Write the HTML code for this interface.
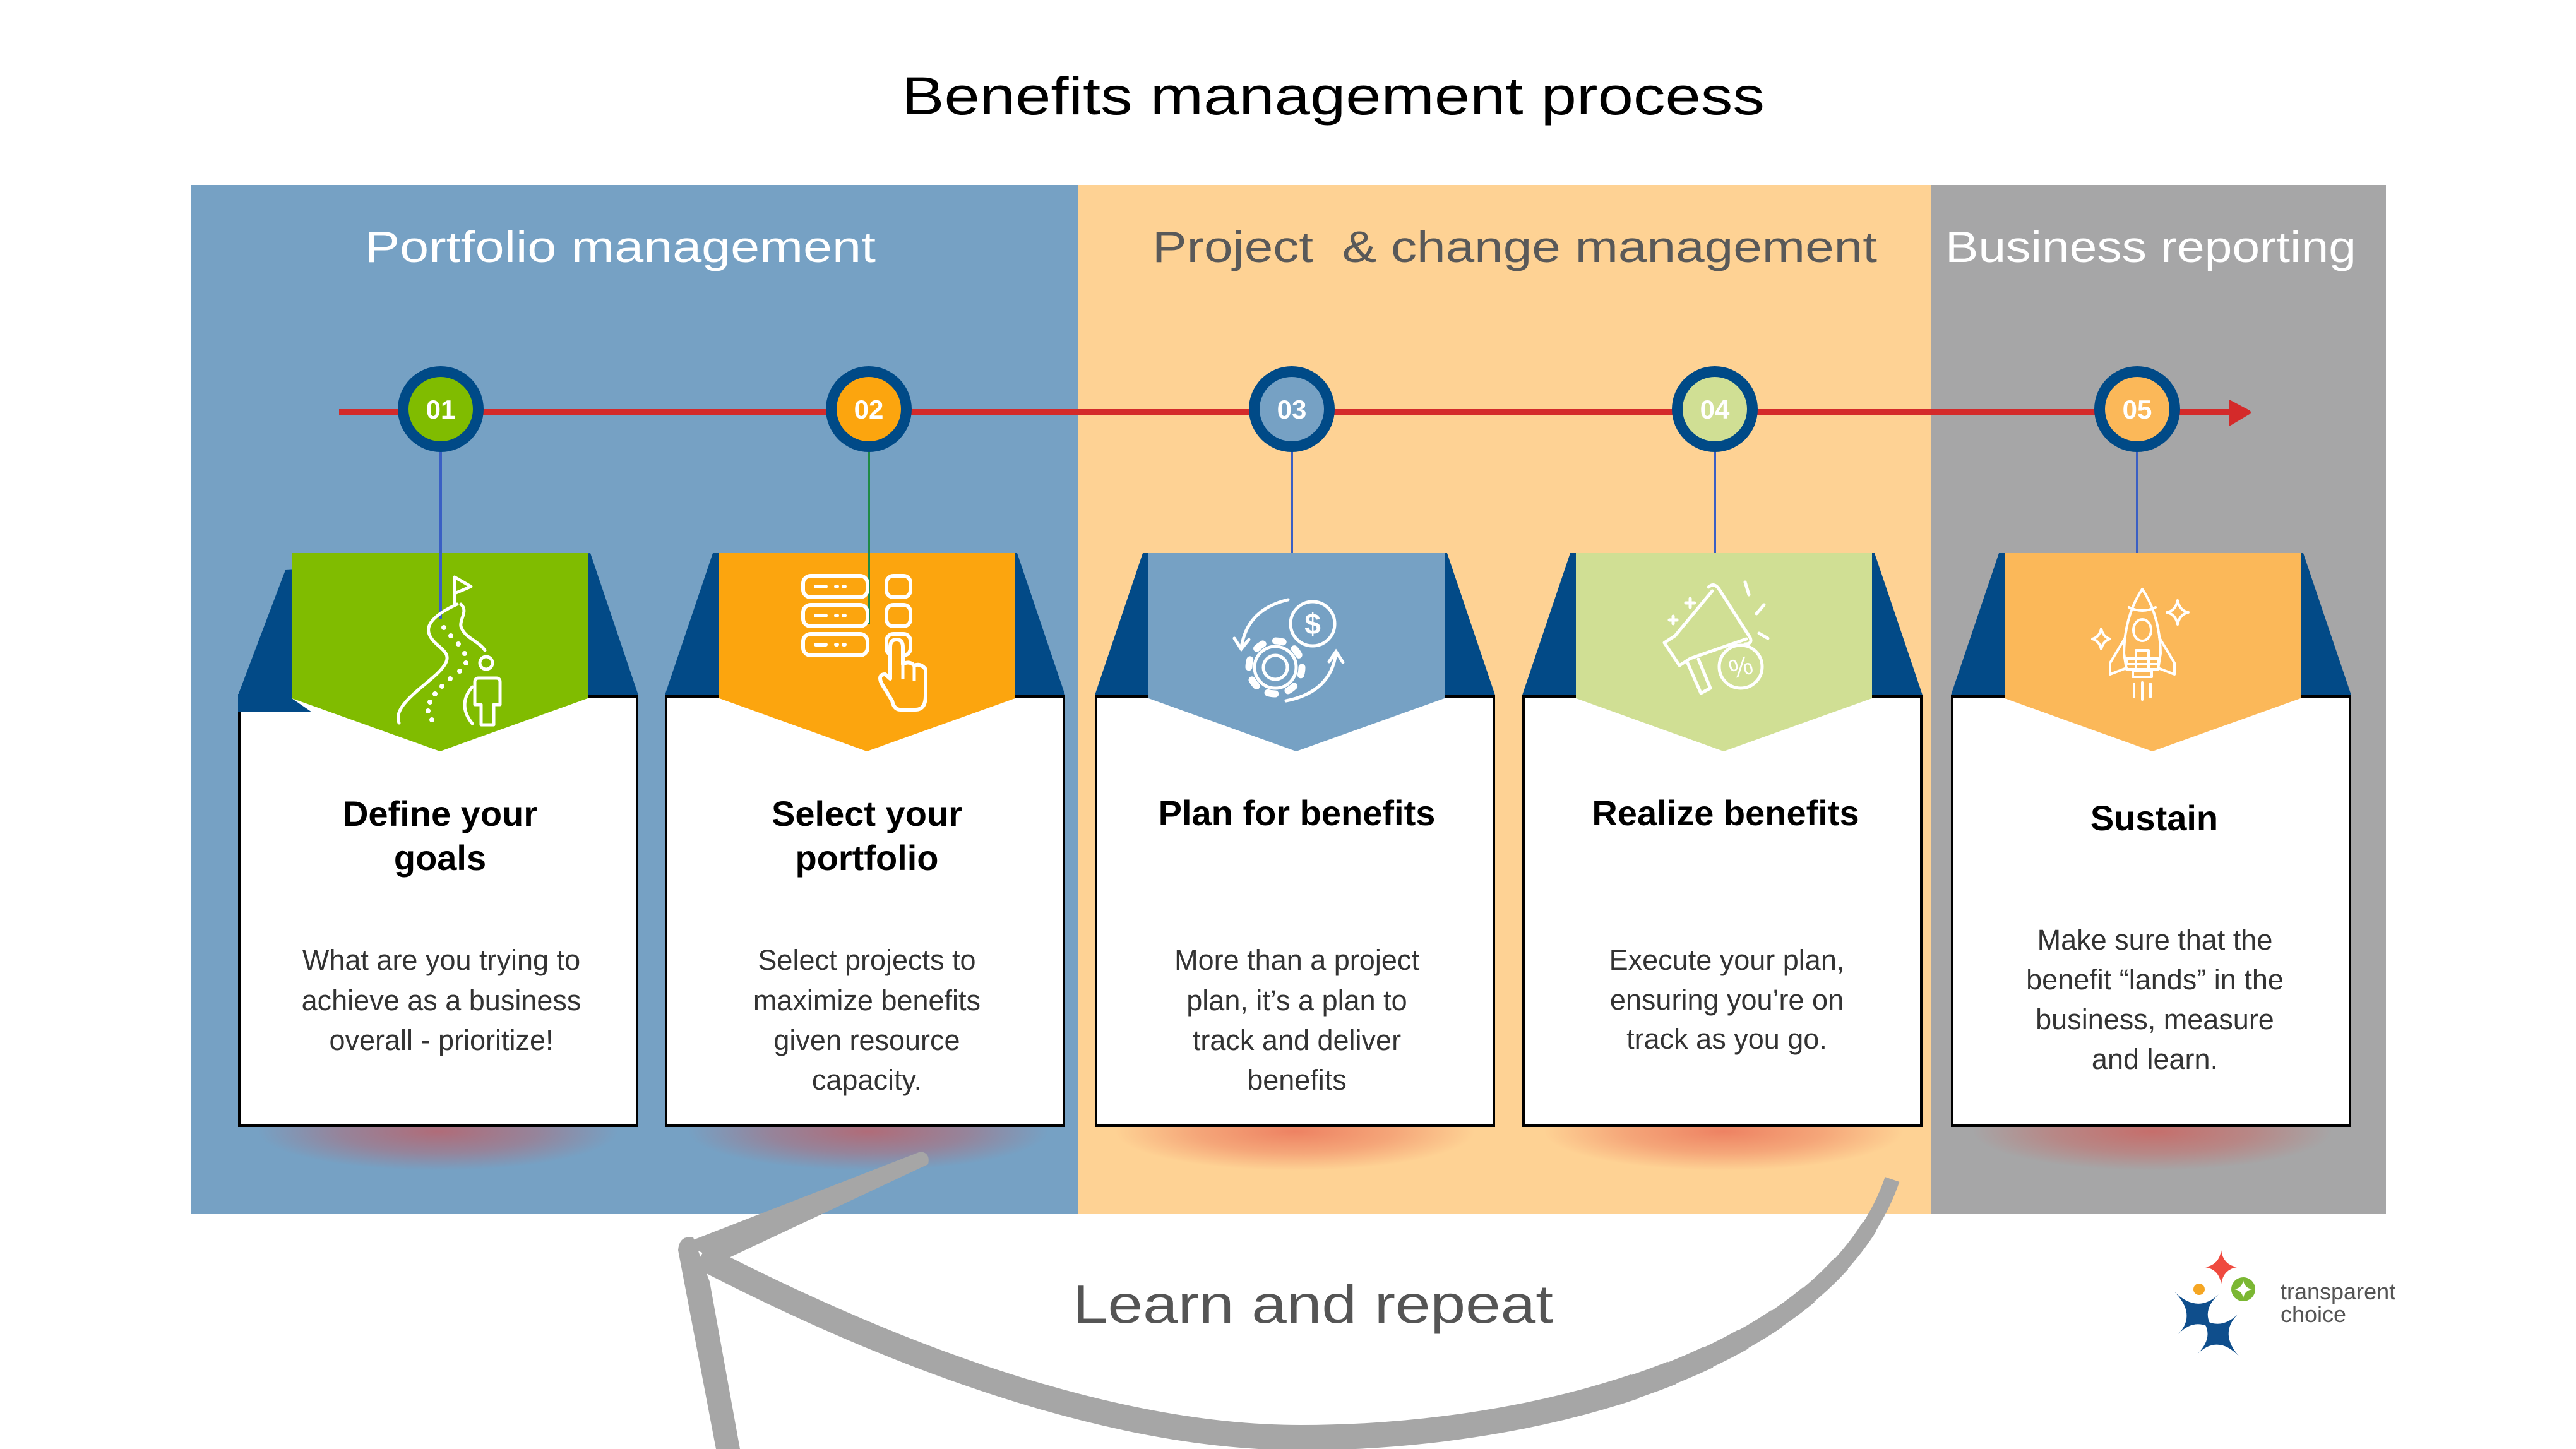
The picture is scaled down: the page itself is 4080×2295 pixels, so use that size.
<!DOCTYPE html>
<html>
<head>
<meta charset="utf-8">
<style>
  html,body{margin:0;padding:0;background:#fff;}
  svg{display:block;}
  text{font-family:"Liberation Sans", Arial, sans-serif;}
</style>
</head>
<body>
<svg xmlns="http://www.w3.org/2000/svg" width="4080" height="2295" viewBox="0 0 4080 2295">
  <defs>
    <radialGradient id="glow" cx="50%" cy="50%" r="50%">
      <stop offset="0" stop-color="#e0403a" stop-opacity="0.55"/>
      <stop offset="0.55" stop-color="#e0403a" stop-opacity="0.3"/>
      <stop offset="1" stop-color="#e0403a" stop-opacity="0"/>
    </radialGradient>
    <path id="arc" d="M1110 1990 C1400 2140 1750 2277 2060 2277 C2450 2277 2900 2150 2997 1868"/>
  </defs>

  <rect x="0" y="0" width="4080" height="2295" fill="#ffffff"/>

  <!-- Main title -->
  <text x="1428" y="181" font-size="84" fill="#000" textLength="1367" lengthAdjust="spacingAndGlyphs">Benefits management process</text>

  <!-- Panels -->
  <rect x="302" y="293" width="1406" height="1630" fill="#76a1c4"/>
  <rect x="1708" y="293" width="1350" height="1630" fill="#fed294"/>
  <rect x="3058" y="293" width="721" height="1630" fill="#a6a6a7"/>

  <!-- Panel headers -->
  <text x="578" y="415" font-size="70" fill="#ffffff" textLength="809" lengthAdjust="spacingAndGlyphs">Portfolio management</text>
  <text x="1825" y="415" font-size="70" fill="#595959" textLength="1148" lengthAdjust="spacingAndGlyphs">Project&#160; &amp; change management</text>
  <text x="3081" y="415" font-size="70" fill="#ffffff" textLength="651" lengthAdjust="spacingAndGlyphs">Business reporting</text>

  <!-- Red timeline -->
  <rect x="537" y="648" width="2998" height="10" fill="#d42a2a"/>
  <path d="M3531 633 L3563 650 Q3567 653 3563 656 L3531 675 Z" fill="#d42a2a"/>

  <!-- Connectors -->
  <line x1="698" y1="712" x2="698" y2="980" stroke="#3a5fc4" stroke-width="4"/>
  <line x1="1376" y1="712" x2="1376" y2="988" stroke="#1f8a45" stroke-width="4"/>
  <line x1="2046" y1="712" x2="2046" y2="878" stroke="#3a5fc4" stroke-width="4"/>
  <line x1="2716" y1="712" x2="2716" y2="878" stroke="#3a5fc4" stroke-width="4"/>
  <line x1="3385" y1="712" x2="3385" y2="878" stroke="#3a5fc4" stroke-width="4"/>

  <!-- Circles -->
  <g font-size="42" font-weight="bold" fill="#fff" text-anchor="middle">
    <circle cx="698" cy="648" r="68" fill="#004a87"/>
    <circle cx="698" cy="648" r="51" fill="#80bc00"/>
    <text x="698" y="663">01</text>
    <circle cx="1376" cy="648" r="68" fill="#004a87"/>
    <circle cx="1376" cy="648" r="51" fill="#fca50e"/>
    <text x="1376" y="663">02</text>
    <circle cx="2046" cy="648" r="68" fill="#004a87"/>
    <circle cx="2046" cy="648" r="51" fill="#76a1c4"/>
    <text x="2046" y="663">03</text>
    <circle cx="2716" cy="648" r="68" fill="#004a87"/>
    <circle cx="2716" cy="648" r="51" fill="#d0df94"/>
    <text x="2716" y="663">04</text>
    <circle cx="3385" cy="648" r="68" fill="#004a87"/>
    <circle cx="3385" cy="648" r="51" fill="#fbb859"/>
    <text x="3385" y="663">05</text>
  </g>

  <!-- Glows under cards -->
  <ellipse cx="694" cy="1792" rx="285" ry="62" fill="url(#glow)"/>
  <ellipse cx="1375" cy="1792" rx="285" ry="62" fill="url(#glow)"/>
  <ellipse cx="2051" cy="1792" rx="285" ry="62" fill="url(#glow)"/>
  <ellipse cx="2730" cy="1792" rx="285" ry="62" fill="url(#glow)"/>
  <ellipse cx="3409" cy="1792" rx="285" ry="62" fill="url(#glow)"/>

  <!-- Dark blue flaps -->
  <polygon points="452,903 935,876 1011,1101 377,1101" fill="#024a87"/>
  <polygon points="1129,876 1611,876 1687,1101 1053,1101" fill="#024a87"/>
  <polygon points="1810,876 2292,876 2368,1101 1734,1101" fill="#024a87"/>
  <polygon points="2487,876 2969,876 3045,1101 2411,1101" fill="#024a87"/>
  <polygon points="3166,876 3648,876 3724,1101 3090,1101" fill="#024a87"/>

  <!-- Cards -->
  <g fill="#ffffff" stroke="#000" stroke-width="4">
    <rect x="379" y="1103" width="630" height="680"/>
    <rect x="1055" y="1103" width="630" height="680"/>
    <rect x="1736" y="1103" width="630" height="680"/>
    <rect x="2413" y="1103" width="630" height="680"/>
    <rect x="3092" y="1103" width="630" height="680"/>
  </g>
  <!-- card 1 extra flap piece -->
  <polygon points="377,1099 462,1099 462,1106 494,1128 377,1128" fill="#024a87"/>

  <!-- Chevrons -->
  <polygon points="462,876 931,876 931,1106 697,1190 462,1106" fill="#80bc00"/>
  <polygon points="1139,876 1608,876 1608,1106 1373,1190 1139,1106" fill="#fca50e"/>
  <polygon points="1819,876 2288,876 2288,1106 2053,1190 1819,1106" fill="#76a1c4"/>
  <polygon points="2496,876 2965,876 2965,1106 2730,1190 2496,1106" fill="#d0df94"/>
  <polygon points="3175,876 3644,876 3644,1106 3409,1190 3175,1106" fill="#fbb859"/>

  <!-- connector overlays onto chevrons 1 and 2 -->
  <line x1="698" y1="876" x2="698" y2="980" stroke="#3a5fc4" stroke-width="4"/>
  <line x1="1376" y1="876" x2="1376" y2="988" stroke="#1f8a45" stroke-width="4"/>

  <!-- Icon 1: road, flag, person -->
  <g fill="none" stroke="#fff" stroke-width="5" stroke-linecap="round" stroke-linejoin="round">
    <path d="M720 955 V914 L746 929 L720 940"/>
    <path d="M724 957 C700 968 672 985 680 1005 C688 1025 716 1030 706 1050 C696 1070 660 1090 640 1115 C632 1125 628 1135 632 1145"/>
    <path d="M730 957 C742 968 728 980 730 992 C735 1010 758 1015 768 1030"/>
    <circle cx="770" cy="1050" r="10"/>
    <path d="M762 1148 V1116 H752 V1080 Q752 1074 758 1074 H786 Q792 1074 792 1080 V1116 H782 V1148 Z"/>
    <path d="M748 1088 Q724 1116 748 1146"/>
  </g>
  <g fill="#fff">
    <circle cx="703" cy="994" r="4"/><circle cx="714" cy="1007" r="4"/>
    <circle cx="726" cy="1020" r="4"/><circle cx="736" cy="1035" r="4"/>
    <circle cx="738" cy="1050" r="4"/><circle cx="728" cy="1063" r="4"/>
    <circle cx="713" cy="1075" r="4"/><circle cx="700" cy="1087" r="4"/>
    <circle cx="689" cy="1099" r="4"/><circle cx="681" cy="1112" r="4"/>
    <circle cx="678" cy="1126" r="4"/><circle cx="684" cy="1140" r="4"/>
  </g>

  <!-- Icon 2: list + hand -->
  <g fill="none" stroke="#fff" stroke-width="6" stroke-linecap="round" stroke-linejoin="round">
    <rect x="1272" y="912" width="102" height="34" rx="12"/>
    <rect x="1272" y="958" width="102" height="34" rx="12"/>
    <rect x="1272" y="1004" width="102" height="34" rx="12"/>
    <rect x="1404" y="912" width="38" height="34" rx="11"/>
    <rect x="1404" y="958" width="38" height="34" rx="11"/>
    <rect x="1404" y="1004" width="38" height="34" rx="11"/>
    <path d="M1292 929 H1308 M1324 929 H1326 M1336 929 H1338"/>
    <path d="M1292 975 H1308 M1324 975 H1326 M1336 975 H1338"/>
    <path d="M1292 1021 H1308 M1324 1021 H1326 M1336 1021 H1338"/>
  </g>
  <path d="M1410 1075 V1025 Q1410 1013 1420 1013 Q1430 1013 1430 1025 V1052 Q1440 1046 1448 1054 Q1458 1050 1466 1060 V1102 Q1466 1124 1450 1124 H1426 Q1416 1124 1413 1110 L1396 1082 Q1390 1068 1402 1068 Z" fill="#fca50e" stroke="#fff" stroke-width="6" stroke-linejoin="round"/>
  <path d="M1430 1052 V1075 M1448 1054 V1078" stroke="#fff" stroke-width="5" fill="none"/>

  <!-- Icon 3: gear + dollar -->
  <g fill="none" stroke="#fff" stroke-width="5" stroke-linecap="round">
    <circle cx="2079" cy="988" r="35"/>
    <circle cx="2020" cy="1057" r="33"/>
    <circle cx="2020" cy="1057" r="42" stroke-width="11" stroke-dasharray="12 21"/>
    <circle cx="2020" cy="1057" r="19"/>
    <path d="M2040 950 Q1975 965 1966 1026"/>
    <path d="M1955 1011 L1966 1028 L1978 1013"/>
    <path d="M2037 1110 Q2108 1096 2116 1034"/>
    <path d="M2105 1048 L2116 1032 L2127 1049"/>
  </g>
  <text x="2079" y="1004" font-size="46" font-weight="bold" fill="#fff" text-anchor="middle">$</text>

  <!-- Icon 4: megaphone + percent -->
  <g fill="none" stroke="#fff" stroke-width="5" stroke-linecap="round" stroke-linejoin="round">
    <circle cx="2757" cy="1056" r="34"/>
    <path d="M2712 936 L2653 1007 L2636 1018 L2660 1054 L2677 1043 L2766 1012"/>
    <path d="M2706 930 Q2714 922 2722 932 L2772 1010 Q2776 1020 2764 1020"/>
    <path d="M2672 1048 L2694 1098 L2709 1090 L2690 1044"/>
    <path d="M2670 955 H2684 M2677 948 V962"/>
    <path d="M2644 982 H2656 M2650 976 V988"/>
    <path d="M2764 922 L2770 942 M2794 958 L2782 972 M2786 1003 L2800 1011"/>
  </g>
  <text x="2757" y="1071" font-size="42" fill="#fff" text-anchor="middle" transform="rotate(-15 2757 1056)">%</text>

  <!-- Icon 5: rocket -->
  <g fill="none" stroke="#fff" stroke-width="4" stroke-linecap="round" stroke-linejoin="round">
    <path d="M3393 933 Q3365 975 3364 1035 L3368 1060 H3418 L3422 1035 Q3421 975 3393 933 Z"/>
    <path d="M3372 962 Q3393 972 3414 962"/>
    <ellipse cx="3393" cy="998" rx="14" ry="17"/>
    <path d="M3366 1010 L3342 1050 V1068 L3368 1058"/>
    <path d="M3420 1010 L3444 1050 V1068 L3418 1058"/>
    <rect x="3383" y="1030" width="20" height="32"/>
    <rect x="3368" y="1043" width="50" height="9"/>
    <rect x="3378" y="1062" width="30" height="10"/>
    <path d="M3380 1083 V1104 M3393 1081 V1108 M3406 1083 V1104"/>
    <path d="M3449 951 Q3452 967 3466 970 Q3452 973 3449 989 Q3446 973 3432 970 Q3446 967 3449 951 Z"/>
    <path d="M3328 996 Q3331 1009 3342 1012 Q3331 1015 3328 1028 Q3325 1015 3314 1012 Q3325 1009 3328 996 Z"/>
  </g>

  <!-- Card titles -->
  <g font-size="56" font-weight="bold" fill="#000" text-anchor="middle">
    <text x="697" y="1308">Define your</text>
    <text x="697" y="1378">goals</text>
    <text x="1373" y="1308">Select your</text>
    <text x="1373" y="1378">portfolio</text>
    <text x="2054" y="1307">Plan for benefits</text>
    <text x="2733" y="1307">Realize benefits</text>
    <text x="3412" y="1315">Sustain</text>
  </g>

  <!-- Card bodies -->
  <g font-size="45" fill="#333" text-anchor="middle">
    <text x="699" y="1536">What are you trying to</text>
    <text x="699" y="1600">achieve as a business</text>
    <text x="699" y="1663">overall - prioritize!</text>

    <text x="1373" y="1536">Select projects to</text>
    <text x="1373" y="1600">maximize benefits</text>
    <text x="1373" y="1663">given resource</text>
    <text x="1373" y="1726">capacity.</text>

    <text x="2054" y="1536">More than a project</text>
    <text x="2054" y="1600">plan, it’s a plan to</text>
    <text x="2054" y="1663">track and deliver</text>
    <text x="2054" y="1726">benefits</text>

    <text x="2735" y="1536">Execute your plan,</text>
    <text x="2735" y="1599">ensuring you’re on</text>
    <text x="2735" y="1661">track as you go.</text>

    <text x="3413" y="1504">Make sure that the</text>
    <text x="3413" y="1567">benefit “lands” in the</text>
    <text x="3413" y="1630">business, measure</text>
    <text x="3413" y="1693">and learn.</text>
  </g>

  <!-- Learn and repeat arrow (smoothly tapered arc built from layered dashes) -->
  <g fill="none" stroke="#a6a6a6">
    <use href="#arc" stroke-width="24" pathLength="1000"/>
    <path d="M1110 1990 C1400 2140 1750 2277 2060 2277 C2450 2277 2900 2150 2997 1868" stroke-width="26" pathLength="1000" stroke-dasharray="960 2000"/>
    <path d="M1110 1990 C1400 2140 1750 2277 2060 2277 C2450 2277 2900 2150 2997 1868" stroke-width="28" pathLength="1000" stroke-dasharray="925 2000"/>
    <path d="M1110 1990 C1400 2140 1750 2277 2060 2277 C2450 2277 2900 2150 2997 1868" stroke-width="30" pathLength="1000" stroke-dasharray="890 2000"/>
    <path d="M1110 1990 C1400 2140 1750 2277 2060 2277 C2450 2277 2900 2150 2997 1868" stroke-width="32" pathLength="1000" stroke-dasharray="860 2000"/>
    <path d="M1110 1990 C1400 2140 1750 2277 2060 2277 C2450 2277 2900 2150 2997 1868" stroke-width="34" pathLength="1000" stroke-dasharray="830 2000"/>
    <path d="M1110 1990 C1400 2140 1750 2277 2060 2277 C2450 2277 2900 2150 2997 1868" stroke-width="36" pathLength="1000" stroke-dasharray="800 2000"/>
    <path d="M1110 1990 C1400 2140 1750 2277 2060 2277 C2450 2277 2900 2150 2997 1868" stroke-width="38" pathLength="1000" stroke-dasharray="770 2000"/>
    <path d="M1110 1990 C1400 2140 1750 2277 2060 2277 C2450 2277 2900 2150 2997 1868" stroke-width="40" pathLength="1000" stroke-dasharray="740 2000"/>
  </g>
  <g fill="#a6a6a6">
    <path d="M1082 1970 L1458 1824 Q1474 1826 1470 1844 L1142 1998 Z"/>
    <path d="M1074 1980 Q1076 1956 1098 1960 L1124 2030 L1172 2295 L1134 2295 Z"/>
  </g>
  <text x="1699" y="2095" font-size="85" fill="#555" textLength="761" lengthAdjust="spacingAndGlyphs">Learn and repeat</text>

  <!-- Logo -->
  <path d="M3518 1980 Q3521 2003 3543 2007 Q3521 2011 3518 2034 Q3515 2011 3493 2007 Q3515 2003 3518 1980 Z" fill="#ef4a3f"/>
  <circle cx="3483" cy="2042" r="9" fill="#f5a623"/>
  <circle cx="3553" cy="2042" r="19" fill="#7bb733"/>
  <path d="M3553 2028 Q3555 2040 3567 2042 Q3555 2044 3553 2056 Q3551 2044 3539 2042 Q3551 2040 3553 2028 Z" fill="#fff"/>
  <path d="M3443 2045 Q3480 2082 3514 2050 Q3480 2082 3513 2112 Q3480 2082 3450 2113 Q3480 2082 3443 2045 Z" fill="#0f4e8c"/>
  <path d="M3480 2082 Q3513 2112 3545 2081 Q3513 2112 3548 2150 Q3513 2112 3480 2145 Q3513 2112 3480 2082 Z" fill="#0f4e8c"/>
  <text x="3612" y="2058" font-size="36" fill="#555">transparent</text>
  <text x="3612" y="2094" font-size="36" fill="#555">choice</text>
</svg>
</body>
</html>
